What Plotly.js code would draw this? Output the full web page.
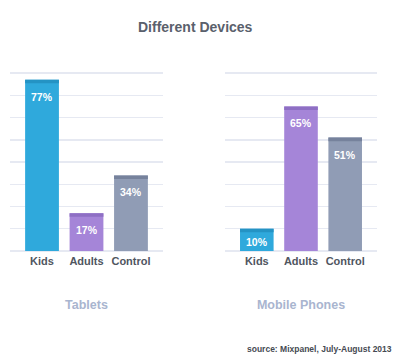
<!DOCTYPE html>
<html>
<head>
<meta charset="utf-8">
<script src="https://cdn.plot.ly/plotly-3.0.1.min.js"></script>
<style>html,body{margin:0;padding:0;background:#fff;}#chart{width:400px;height:357px;}</style>
</head>
<body>
<div id="chart"></div>
<script>
var categories = ["Kids", "Adults", "Control"];
var tabletValues = [77, 17, 34];
var phoneValues = [10, 65, 51];
var panelTitles = ["Tablets", "Mobile Phones"];
var chartTitle = "Different Devices";
var sourceNote = "source: Mixpanel, July-August 2013";

var barColors = ["#2fa9dc", "#a585d8", "#909cb5"];
var capColors = ["#2493c4", "#8e6fc4", "#76829c"];
var CAP = 1.6;
var FONT = "Liberation Sans, Arial, sans-serif";

function panel(values, xa, ya) {
  var main = {
    type: "bar", x: categories, y: values, xaxis: xa, yaxis: ya,
    marker: {color: barColors, line: {width: 0}},
    width: 0.76, hoverinfo: "skip", showlegend: false
  };
  var cap = {
    type: "bar", x: categories,
    y: values.map(function(){return CAP;}),
    base: values.map(function(v){return v - CAP;}),
    xaxis: xa, yaxis: ya,
    marker: {color: capColors, line: {width: 0}},
    width: 0.76, hoverinfo: "skip", showlegend: false
  };
  return [main, cap];
}

var data = panel(tabletValues, "x", "y").concat(panel(phoneValues, "x2", "y2"));

var annotations = [];
[[tabletValues, "x", "y"], [phoneValues, "x2", "y2"]].forEach(function(p){
  p[0].forEach(function(v, i){
    annotations.push({
      x: categories[i], y: v, xref: p[1], yref: p[2],
      text: "<b>" + v + "%</b>", showarrow: false, yshift: v < 15 ? -13 : -17,
      font: {family: FONT, size: 10.5, color: "#ffffff"}
    });
  });
});
annotations.push({
  xref: "paper", yref: "paper", x: 0.985, y: 0.022, xanchor: "right", yanchor: "middle",
  text: "<b>" + sourceNote + "</b>", showarrow: false,
  font: {family: FONT, size: 8.5, color: "#454a52"}
});

var yDomain = [(357 - 251) / 357, (357 - 62) / 357];
function xaxis(domain, title) {
  return {
    domain: domain, range: [-0.72, 2.72], type: "category",
    showgrid: false, zeroline: false, showline: false, ticks: "",
    tickfont: {family: FONT, size: 11, color: "#50565f", weight: "bold"},
    ticklabelstandoff: 2,
    title: {text: "<b>" + title + "</b>", standoff: 34,
            font: {family: FONT, size: 12.5, color: "#a9b5cf"}},
    fixedrange: true
  };
}
function yaxis(anchor) {
  return {
    domain: yDomain, range: [0, 85], anchor: anchor,
    dtick: 10, tick0: 0, showticklabels: false, ticks: "",
    showgrid: true, gridcolor: "#e6e9f2", gridwidth: 1.4,
    zeroline: true, zerolinecolor: "#e6e9f2", zerolinewidth: 1.4,
    showline: false, fixedrange: true
  };
}

var layout = {
  width: 400, height: 357,
  margin: {l: 0, r: 0, t: 0, b: 0},
  paper_bgcolor: "#ffffff", plot_bgcolor: "#ffffff",
  barmode: "overlay", bargap: 0.24,
  title: {text: "<b>" + chartTitle + "</b>", x: 0.488, xanchor: "center", y: 0.923, yanchor: "middle",
          font: {family: FONT, size: 14, color: "#5a606c"}},
  xaxis: xaxis([10/400, 163/400], panelTitles[0]),
  yaxis: yaxis("x"),
  xaxis2: xaxis([225/400, 377/400], panelTitles[1]),
  yaxis2: yaxis("x2"),
  annotations: annotations,
  showlegend: false
};

Plotly.newPlot("chart", data, layout, {displayModeBar: false, staticPlot: true});
</script>
</body>
</html>
